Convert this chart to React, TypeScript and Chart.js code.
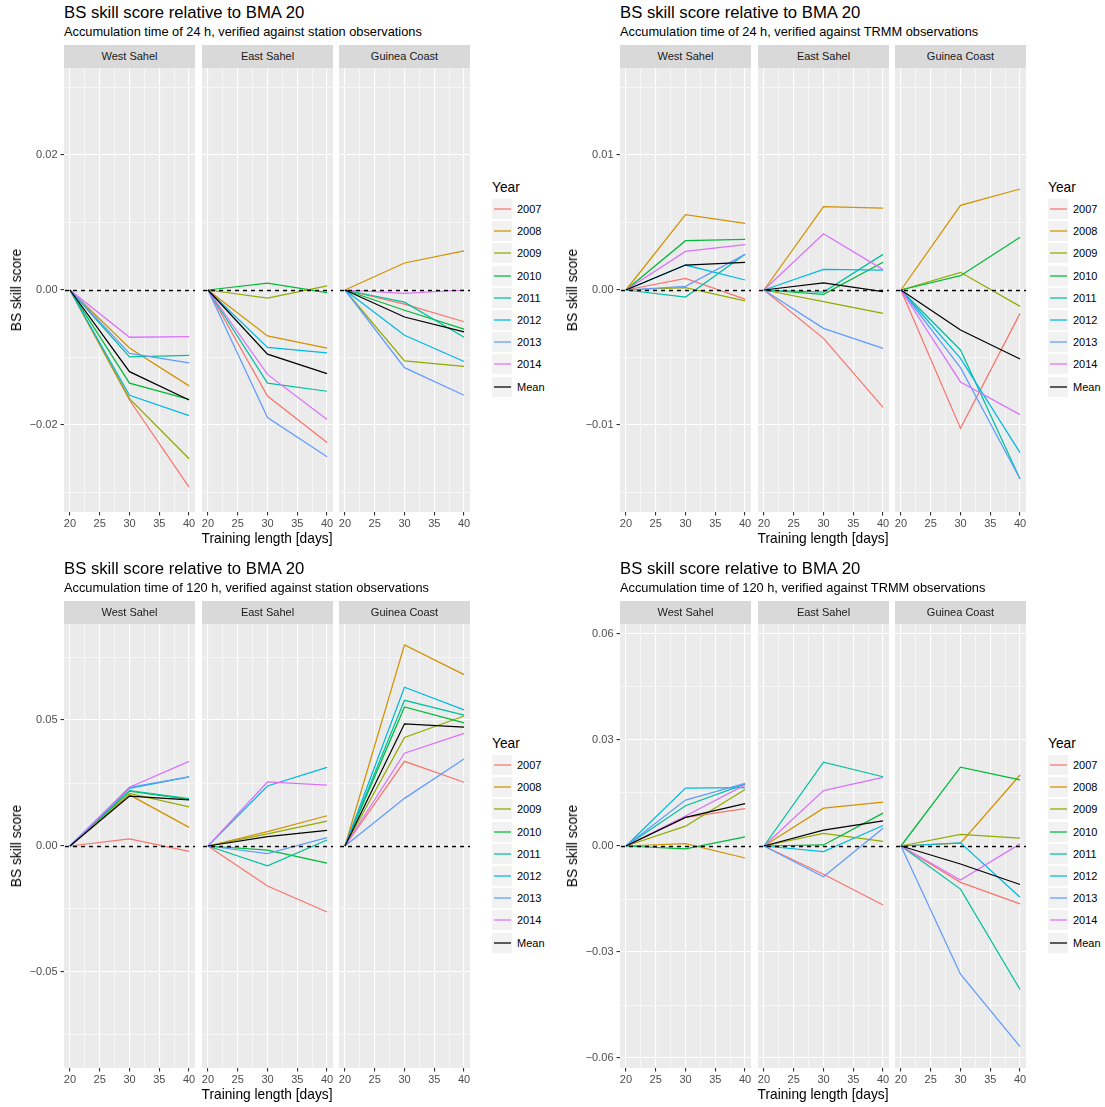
import React, { useEffect, useRef } from "react";
import { Chart, registerables } from "chart.js";

Chart.register(...registerables);

const FONT = '"Liberation Sans", Arial, Helvetica, sans-serif';

// Training lengths (days) at which the scores were evaluated
const trainingDays = [20, 30, 40];
const xLimits = [19, 41];
const xMajorBreaks = [20, 25, 30, 35, 40];
const xMinorBreaks = [22.5, 27.5, 32.5, 37.5];

const seriesNames = ["2007", "2008", "2009", "2010", "2011", "2012", "2013", "2014", "Mean"];
const seriesColors = [
  "#F8766D", "#D39200", "#93AA00", "#00BA38", "#00C19F", "#00B9E3", "#619CFF", "#DB72FB", "#000000",
];
const regionNames = ["West Sahel", "East Sahel", "Guinea Coast"];

// Rows follow seriesNames; columns follow trainingDays.
// 24 h accumulation, station observations
const station24WestSahel = [
  [0, -0.0163, -0.0292],
  [0, -0.0086, -0.0142],
  [0, -0.0161, -0.025],
  [0, -0.0138, -0.0162],
  [0, -0.0099, -0.0097],
  [0, -0.0156, -0.0186],
  [0, -0.0094, -0.0108],
  [0, -0.007, -0.0069],
  [0, -0.0121, -0.0163],
];
const station24EastSahel = [
  [0, -0.0157, -0.0226],
  [0, -0.0068, -0.0086],
  [0, -0.0012, 0.0006],
  [0, 0.001, -0.0004],
  [0, -0.0138, -0.015],
  [0, -0.0085, -0.0093],
  [0, -0.0189, -0.0247],
  [0, -0.0125, -0.0192],
  [0, -0.0095, -0.0124],
];
const station24GuineaCoast = [
  [0, -0.0021, -0.0047],
  [0, 0.004, 0.0058],
  [0, -0.0105, -0.0113],
  [0, -0.003, -0.0058],
  [0, -0.0018, -0.007],
  [0, -0.0067, -0.0106],
  [0, -0.0115, -0.0156],
  [0, -0.0005, 0.0],
  [0, -0.004, -0.0062],
];

// 24 h accumulation, TRMM observations
const trmm24WestSahel = [
  [0, 0.00086, -0.00067],
  [0, 0.00558, 0.00494],
  [0, 0.00017, -0.00081],
  [0, 0.00365, 0.00375],
  [0, -0.00052, 0.00264],
  [0, 0.00185, 0.00074],
  [0, 0.00027, 0.00264],
  [0, 0.00286, 0.00336],
  [0, 0.00185, 0.00205],
];
const trmm24EastSahel = [
  [0, -0.00358, -0.00869],
  [0, 0.00617, 0.00607],
  [0, -0.00086, -0.00173],
  [0, -0.00032, 0.00205],
  [0, -0.00015, 0.00264],
  [0, 0.00153, 0.00148],
  [0, -0.00284, -0.00432],
  [0, 0.00417, 0.00151],
  [0, 0.00052, -0.00012],
];
const trmm24GuineaCoast = [
  [0, -0.01025, -0.00173],
  [0, 0.00627, 0.00748],
  [0, 0.00131, -0.00121],
  [0, 0.00106, 0.0039],
  [0, -0.00444, -0.014],
  [0, -0.00506, -0.01205],
  [0, -0.00575, -0.014],
  [0, -0.00681, -0.00923],
  [0, -0.00296, -0.00511],
];

// 120 h accumulation, station observations
const station120WestSahel = [
  [0, 0.0028, -0.0021],
  [0, 0.0203, 0.0074],
  [0, 0.0209, 0.0155],
  [0, 0.0218, 0.0185],
  [0, 0.022, 0.0188],
  [0, 0.0229, 0.0274],
  [0, 0.0233, 0.0274],
  [0, 0.0233, 0.0336],
  [0, 0.0198, 0.0183],
];
const station120EastSahel = [
  [0, -0.0159, -0.0262],
  [0, 0.0057, 0.012],
  [0, 0.0048, 0.0099],
  [0, -0.0016, -0.0068],
  [0, -0.0079, 0.0024],
  [0, 0.0238, 0.0312],
  [0, -0.003, 0.0033],
  [0, 0.0254, 0.0242],
  [0, 0.0037, 0.0062],
];
const station120GuineaCoast = [
  [0, 0.0336, 0.0253],
  [0, 0.0798, 0.068],
  [0, 0.0431, 0.0516],
  [0, 0.0552, 0.0489],
  [0, 0.0578, 0.0519],
  [0, 0.063, 0.054],
  [0, 0.0189, 0.0345],
  [0, 0.0368, 0.0447],
  [0, 0.0485, 0.0472],
];

// 120 h accumulation, TRMM observations
const trmm120WestSahel = [
  [0, 0.0081, 0.0106],
  [0, 0.0007, -0.0034],
  [0, 0.0056, 0.016],
  [0, -0.0008, 0.0026],
  [0, 0.0114, 0.0175],
  [0, 0.0164, 0.0165],
  [0, 0.013, 0.0177],
  [0, 0.0085, 0.0173],
  [0, 0.0081, 0.012],
];
const trmm120EastSahel = [
  [0, -0.008, -0.0167],
  [0, 0.0107, 0.0124],
  [0, 0.0036, 0.0013],
  [0, 0.0003, 0.0093],
  [0, 0.0237, 0.0196],
  [0, -0.0016, 0.0058],
  [0, -0.0087, 0.005],
  [0, 0.0157, 0.0194],
  [0, 0.0045, 0.0071],
];
const trmm120GuineaCoast = [
  [0, -0.0103, -0.0164],
  [0, 0.0008, 0.0201],
  [0, 0.0033, 0.0022],
  [0, 0.0223, 0.0187],
  [0, -0.0122, -0.0406],
  [0, 0.0009, -0.0145],
  [0, -0.0363, -0.0568],
  [0, -0.0096, 0.0006],
  [0, -0.0051, -0.0109],
];

// Y axis limits (symmetric) and breaks for each panel
const station24Limit = 0.032889;
const station24Breaks = [-0.02, 0, 0.02];
const station24Labels = ["\u22120.02", "0.00", "0.02"];
const station24Minor = [-0.03, -0.01, 0.01, 0.03];

const trmm24Limit = 0.016444;
const trmm24Breaks = [-0.01, 0, 0.01];
const trmm24Labels = ["\u22120.01", "0.00", "0.01"];
const trmm24Minor = [-0.015, -0.005, 0.005, 0.015];

const station120Limit = 0.0881;
const station120Breaks = [-0.05, 0, 0.05];
const station120Labels = ["\u22120.05", "0.00", "0.05"];
const station120Minor = [-0.075, -0.025, 0.025, 0.075];

const trmm120Limit = 0.06283;
const trmm120Breaks = [-0.06, -0.03, 0, 0.03, 0.06];
const trmm120Labels = ["\u22120.06", "\u22120.03", "0.00", "0.03", "0.06"];
const trmm120Minor = [-0.045, -0.015, 0.015, 0.045];

const panelTitle = "BS skill score relative to BMA 20";
const panels = [
  {
    subtitle: "Accumulation time of 24 h, verified against station observations",
    facets: [station24WestSahel, station24EastSahel, station24GuineaCoast],
    limit: station24Limit, breaks: station24Breaks, labels: station24Labels, minor: station24Minor,
  },
  {
    subtitle: "Accumulation time of 24 h, verified against TRMM observations",
    facets: [trmm24WestSahel, trmm24EastSahel, trmm24GuineaCoast],
    limit: trmm24Limit, breaks: trmm24Breaks, labels: trmm24Labels, minor: trmm24Minor,
  },
  {
    subtitle: "Accumulation time of 120 h, verified against station observations",
    facets: [station120WestSahel, station120EastSahel, station120GuineaCoast],
    limit: station120Limit, breaks: station120Breaks, labels: station120Labels, minor: station120Minor,
  },
  {
    subtitle: "Accumulation time of 120 h, verified against TRMM observations",
    facets: [trmm120WestSahel, trmm120EastSahel, trmm120GuineaCoast],
    limit: trmm120Limit, breaks: trmm120Breaks, labels: trmm120Labels, minor: trmm120Minor,
  },
];

// Layout (page pixels, relative to each panel's origin)
const PANEL_STEP = 556;
const FACET_LEFTS = [64, 202, 339];
const FACET_W = 131;
const STRIP_TOP = 45;
const PLOT_TOP = 68;
const PLOT_H = 444;
const Y_AXIS_W = 56;
const X_AXIS_H = 22;

const panelBackground = {
  id: "panelBackground",
  beforeDraw(chart: any) {
    const { ctx, chartArea: a } = chart;
    ctx.save();
    ctx.fillStyle = "#EBEBEB";
    ctx.fillRect(a.left, a.top, a.right - a.left, a.bottom - a.top);
    ctx.restore();
  },
};

// Dashed reference line at a skill score of zero
const zeroLine = {
  id: "zeroLine",
  afterDatasetsDraw(chart: any) {
    const { ctx, chartArea: a, scales } = chart;
    const y = Math.round(scales.y.getPixelForValue(0)) + 0.5;
    ctx.save();
    ctx.beginPath();
    ctx.rect(a.left, a.top, a.right - a.left, a.bottom - a.top);
    ctx.clip();
    ctx.strokeStyle = "#000000";
    ctx.lineWidth = 1.3;
    ctx.setLineDash([4, 4]);
    ctx.beginPath();
    ctx.moveTo(a.left + 1, y);
    ctx.lineTo(a.right, y);
    ctx.stroke();
    ctx.restore();
  },
};

type FacetProps = {
  rows: number[][];
  limit: number;
  breaks: number[];
  labels: string[];
  minor: number[];
  showYAxis: boolean;
  left: number;
  top: number;
};

function Facet({ rows, limit, breaks, labels, minor, showYAxis, left, top }: FacetProps) {
  const ref = useRef<HTMLCanvasElement>(null);
  const width = FACET_W + (showYAxis ? Y_AXIS_W : 0);
  const height = PLOT_H + X_AXIS_H;

  useEffect(() => {
    const canvas = ref.current;
    if (!canvas) return;
    const xTicks = [...xMajorBreaks, ...xMinorBreaks].sort((a, b) => a - b);
    const yTicks = [...breaks, ...minor].sort((a, b) => a - b);
    const isXMajor = (v: number) => xMajorBreaks.includes(v);
    const isYMajor = (v: number) => breaks.includes(v);

    const chart = new Chart(canvas, {
      type: "line",
      data: {
        datasets: rows.map((vals, i) => ({
          label: seriesNames[i],
          data: trainingDays.map((d, k) => ({ x: d, y: vals[k] })),
          borderColor: seriesColors[i],
          backgroundColor: seriesColors[i],
          borderWidth: 1.25,
          pointRadius: 0,
          pointHoverRadius: 0,
          fill: false,
          tension: 0,
          order: seriesNames.length - 1 - i,
        })),
      },
      options: {
        animation: false,
        responsive: false,
        devicePixelRatio: 1,
        events: [],
        layout: { padding: 0, autoPadding: false },
        plugins: {
          legend: { display: false },
          tooltip: { enabled: false },
          title: { display: false },
        },
        scales: {
          x: {
            type: "linear",
            min: xLimits[0],
            max: xLimits[1],
            afterBuildTicks: (s: any) => {
              s.ticks = xTicks.map((v) => ({ value: v }));
            },
            afterFit: (s: any) => {
              s.height = X_AXIS_H;
              s.paddingLeft = 0;
              s.paddingRight = 0;
            },
            ticks: {
              autoSkip: false,
              maxRotation: 0,
              minRotation: 0,
              padding: 1.5,
              color: "#4D4D4D",
              font: { family: FONT, size: 11 },
              callback: (v: any) => (isXMajor(v) ? String(v) : ""),
            },
            grid: {
              color: "#FFFFFF",
              lineWidth: (c: any) => (isXMajor(c.tick.value) ? 1.1 : 0.55),
              drawTicks: true,
              tickLength: 3.5,
              tickWidth: 1.1,
              tickColor: (c: any) => (isXMajor(c.tick.value) ? "#333333" : "rgba(0,0,0,0)"),
            },
            border: { display: false },
          },
          y: {
            type: "linear",
            min: -limit,
            max: limit,
            afterBuildTicks: (s: any) => {
              s.ticks = yTicks.map((v) => ({ value: v }));
            },
            afterFit: (s: any) => {
              s.width = showYAxis ? Y_AXIS_W : 0;
              s.paddingTop = 0;
              s.paddingBottom = 0;
            },
            ticks: {
              display: showYAxis,
              autoSkip: false,
              padding: 3,
              color: "#4D4D4D",
              font: { family: FONT, size: 11 },
              callback: (v: any) => {
                const i = breaks.indexOf(v);
                return i >= 0 ? labels[i] : "";
              },
            },
            grid: {
              color: "#FFFFFF",
              lineWidth: (c: any) => (isYMajor(c.tick.value) ? 1.1 : 0.55),
              drawTicks: showYAxis,
              tickLength: 3.5,
              tickWidth: 1.1,
              tickColor: (c: any) => (isYMajor(c.tick.value) ? "#333333" : "rgba(0,0,0,0)"),
            },
            border: { display: false },
          },
        },
      },
      plugins: [panelBackground, zeroLine],
    } as any);
    return () => chart.destroy();
  }, [rows, limit, breaks, labels, minor, showYAxis]);

  return (
    <canvas
      ref={ref}
      width={width}
      height={height}
      style={{ position: "absolute", left, top, width, height, display: "block" }}
    />
  );
}

function Legend({ ox, oy }: { ox: number; oy: number }) {
  return (
    <>
      <div
        style={{
          position: "absolute", left: ox + 492, top: oy + 180, fontSize: 13.75, lineHeight: "16px",
          color: "#000", whiteSpace: "nowrap",
        }}
      >
        Year
      </div>
      {seriesNames.map((name, i) => {
        const rowTop = oy + 199 + i * 22.2;
        return (
          <React.Fragment key={name}>
            <svg
              width={20}
              height={20}
              style={{ position: "absolute", left: ox + 492, top: rowTop, background: "#F2F2F2" }}
            >
              <line x1={2} x2={19} y1={10} y2={10} stroke={seriesColors[i]} strokeWidth={1.25} />
            </svg>
            <div
              style={{
                position: "absolute", left: ox + 517, top: rowTop + 3, fontSize: 11, lineHeight: "14px",
                color: "#000", whiteSpace: "nowrap",
              }}
            >
              {name}
            </div>
          </React.Fragment>
        );
      })}
    </>
  );
}

function Panel({ index }: { index: number }) {
  const p = panels[index];
  const ox = (index % 2) * PANEL_STEP;
  const oy = Math.floor(index / 2) * PANEL_STEP;
  return (
    <>
      <div
        style={{
          position: "absolute", left: ox + 64, top: oy + 4, fontSize: 16.7, lineHeight: "18px",
          color: "#000", whiteSpace: "nowrap",
        }}
      >
        {panelTitle}
      </div>
      <div
        style={{
          position: "absolute", left: ox + 64, top: oy + 25, fontSize: 12.8, lineHeight: "14px",
          color: "#000", whiteSpace: "nowrap",
        }}
      >
        {p.subtitle}
      </div>
      {regionNames.map((r, i) => (
        <div
          key={r}
          style={{
            position: "absolute", left: ox + FACET_LEFTS[i], top: oy + STRIP_TOP, width: FACET_W,
            height: PLOT_TOP - STRIP_TOP, background: "#D9D9D9", color: "#1A1A1A", fontSize: 11,
            lineHeight: `${PLOT_TOP - STRIP_TOP}px`, textAlign: "center", whiteSpace: "nowrap",
          }}
        >
          {r}
        </div>
      ))}
      {p.facets.map((rows, i) => (
        <Facet
          key={i}
          rows={rows}
          limit={p.limit}
          breaks={p.breaks}
          labels={p.labels}
          minor={p.minor}
          showYAxis={i === 0}
          left={ox + FACET_LEFTS[i] - (i === 0 ? Y_AXIS_W : 0)}
          top={oy + PLOT_TOP}
        />
      ))}
      <div
        style={{
          position: "absolute", left: ox + FACET_LEFTS[0], top: oy + 531, width: FACET_LEFTS[2] + FACET_W - FACET_LEFTS[0],
          textAlign: "center", fontSize: 13.75, lineHeight: "16px", color: "#000", whiteSpace: "nowrap",
        }}
      >
        Training length [days]
      </div>
      <div
        style={{
          position: "absolute", left: ox + 17, top: oy + PLOT_TOP + PLOT_H / 2, fontSize: 13.75, lineHeight: "16px",
          color: "#000", whiteSpace: "nowrap", transform: "translate(-50%, -50%) rotate(-90deg)",
        }}
      >
        BS skill score
      </div>
      <Legend ox={ox} oy={oy} />
    </>
  );
}

export default function App() {
  return (
    <div
      style={{
        position: "absolute", left: 0, top: 0, width: 1105, height: 1107, background: "#FFFFFF",
        fontFamily: FONT, overflow: "hidden",
      }}
    >
      {panels.map((_, i) => (
        <Panel key={i} index={i} />
      ))}
    </div>
  );
}
